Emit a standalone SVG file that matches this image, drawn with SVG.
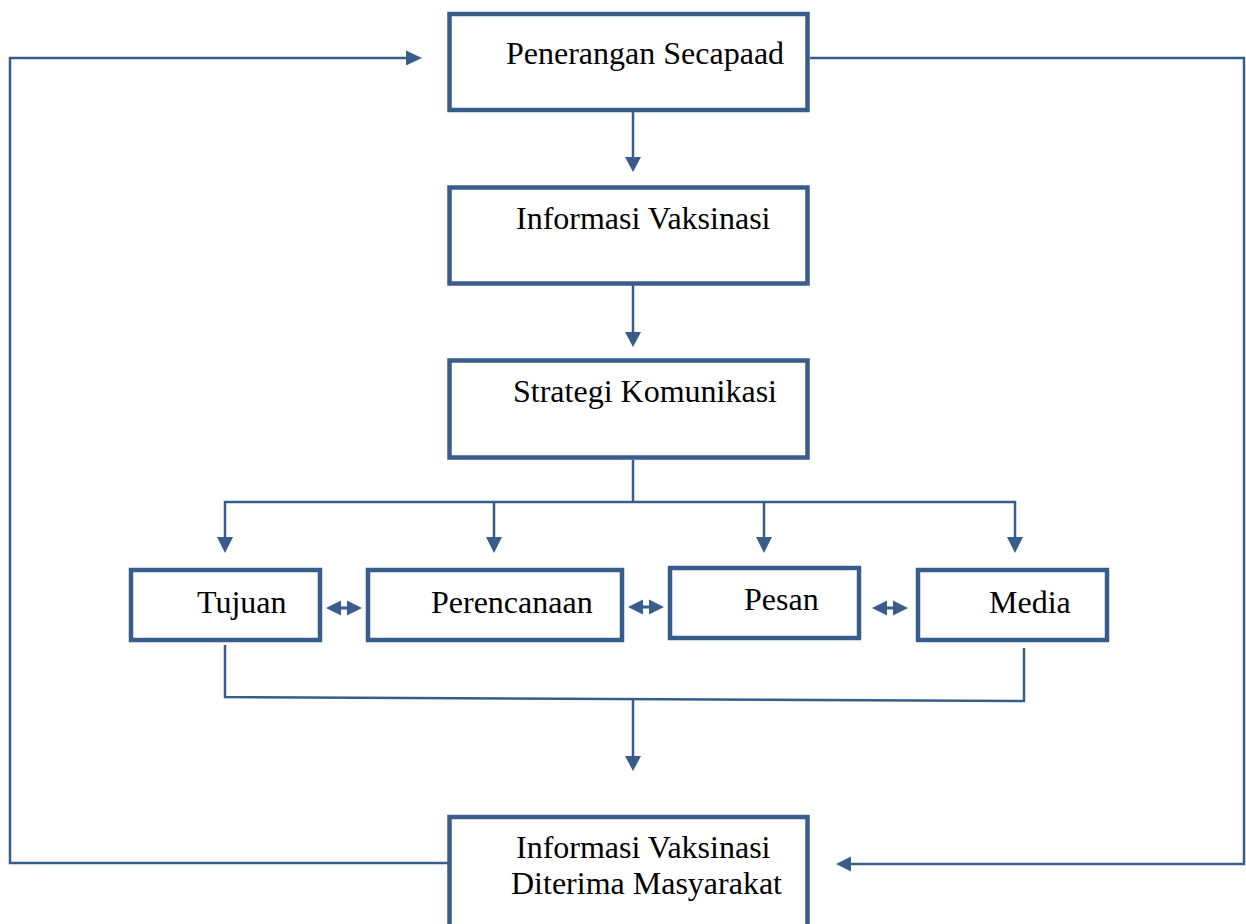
<svg xmlns="http://www.w3.org/2000/svg" width="1246" height="924" viewBox="0 0 1246 924">
<style>
.box{fill:#fff;stroke:#385D8A;stroke-width:4.5}
.ln{fill:none;stroke:#385D8A;stroke-width:2.5}
.hd{fill:#385D8A}
.t{font-family:"Liberation Serif","Times New Roman",serif;font-size:32px;fill:#000}
</style>
<rect width="1246" height="924" fill="#fff"/>
<g id="connectors">
<!-- left feedback loop -->
<polyline class="ln" points="448,863 10,863 10,58 406,58"/>
<polygon class="hd" points="406,50.5 422,58 406,65.5"/>
<!-- right feedback loop -->
<polyline class="ln" points="810,58 1244,58 1244,864 850,864"/>
<polygon class="hd" points="851,856.5 836,864 851,871.5"/>
<!-- box1 to box2 -->
<line class="ln" x1="633" y1="112" x2="633" y2="158"/>
<polygon class="hd" points="625,157 641,157 633,172"/>
<!-- box2 to box3 -->
<line class="ln" x1="633" y1="285" x2="633" y2="333"/>
<polygon class="hd" points="625,332 641,332 633,347"/>
<!-- branch -->
<line class="ln" x1="633" y1="460" x2="633" y2="502"/>
<polyline class="ln" points="225,538 225,502 1015,502 1015,538"/>
<line class="ln" x1="494" y1="502" x2="494" y2="538"/>
<line class="ln" x1="764" y1="502" x2="764" y2="538"/>
<polygon class="hd" points="217,537 233,537 225,553"/>
<polygon class="hd" points="486,537 502,537 494,553"/>
<polygon class="hd" points="756,537 772,537 764,553"/>
<polygon class="hd" points="1007,537 1023,537 1015,553"/>
<!-- double arrows -->
<path class="hd" d="M326,608 L341,600.5 L341,606.5 L347,606.5 L347,600.5 L362,608 L347,615.5 L347,609.5 L341,609.5 L341,615.5 Z"/>
<path class="hd" d="M628,607 L643,599.5 L643,605.5 L649,605.5 L649,599.5 L664,607 L649,614.5 L649,608.5 L643,608.5 L643,614.5 Z"/>
<path class="hd" d="M872,608 L887,600.5 L887,606.5 L893,606.5 L893,600.5 L908,608 L893,615.5 L893,609.5 L887,609.5 L887,615.5 Z"/>
<!-- merge -->
<polyline class="ln" points="225,645 225,697 1024,701 1024,648"/>
<line class="ln" x1="633" y1="699" x2="633" y2="757"/>
<polygon class="hd" points="625,756 641,756 633,771"/>
</g>
<g id="node-penerangan">
<rect class="box" x="449.5" y="14" width="358" height="96"/>
<text class="t" x="506" y="64">Penerangan Secapaad</text>
</g>
<g id="node-informasi">
<rect class="box" x="449.5" y="187.5" width="358" height="96"/>
<text class="t" x="516" y="229">Informasi Vaksinasi</text>
</g>
<g id="node-strategi">
<rect class="box" x="449.5" y="360.5" width="358" height="97"/>
<text class="t" x="513" y="402">Strategi Komunikasi</text>
</g>
<g id="node-tujuan">
<rect class="box" x="131" y="570" width="189" height="70"/>
<text class="t" x="197" y="613">Tujuan</text>
</g>
<g id="node-perencanaan">
<rect class="box" x="368" y="570" width="254" height="70"/>
<text class="t" x="431" y="613">Perencanaan</text>
</g>
<g id="node-pesan">
<rect class="box" x="670" y="568" width="189" height="70"/>
<text class="t" x="744" y="610">Pesan</text>
</g>
<g id="node-media">
<rect class="box" x="918" y="570" width="189" height="70"/>
<text class="t" x="989" y="613">Media</text>
</g>
<g id="node-diterima">
<rect class="box" x="449.5" y="817" width="358" height="120"/>
<text class="t" x="516" y="858">Informasi Vaksinasi</text>
<text class="t" x="511" y="894">Diterima Masyarakat</text>
</g>
</svg>
